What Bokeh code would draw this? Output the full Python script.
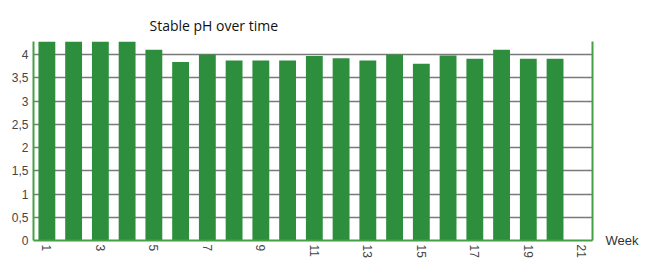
from bokeh.plotting import figure
from bokeh.models import FixedTicker, LinearAxis, Range1d, Title
from bokeh.embed import file_html
from bokeh.resources import INLINE
import math

weeks = list(range(1, 21))
ph_values = [4.4, 4.4, 4.4, 4.4, 4.1, 3.84, 4.0, 3.87, 3.87, 3.87,
             3.97, 3.92, 3.87, 4.0, 3.8, 3.98, 3.91, 4.1, 3.91, 3.91]
x_ticks = [1, 3, 5, 7, 9, 11, 13, 15, 17, 19, 21]
y_ticks = [0, 0.5, 1, 1.5, 2, 2.5, 3, 3.5, 4]
y_tick_labels = {0: "0", 0.5: "0,5", 1: "1", 1.5: "1,5", 2: "2", 2.5: "2,5",
                 3: "3", 3.5: "3,5", 4: "4"}
title_text = "Stable pH over time"
x_label = "Week"

GREEN = "#2d8f3d"
AXIS_GREEN = "#45a045"
FONT = "'Liberation Sans Narrow', 'Liberation Sans'"

p = figure(width=641, height=260, output_backend="svg", toolbar_location=None,
           x_range=Range1d(0.5, 21.4), y_range=Range1d(0, 4.28),
           min_border_left=33, min_border_right=45, min_border_top=41,
           min_border_bottom=18)
p.border_fill_color = "white"
p.title = Title(text=title_text, align="left", offset=116, standoff=10,
                vertical_align="top", text_line_height=0.6,
                text_font="Open Sans", text_font_size="14px",
                text_font_style="normal", text_color="#111111")

p.vbar(x=weeks, top=ph_values, width=0.63, bottom=0,
       fill_color=GREEN, line_color=None)

p.outline_line_color = None
p.background_fill_color = "white"

p.xgrid.grid_line_color = None
p.ygrid.ticker = FixedTicker(ticks=y_ticks)
p.ygrid.grid_line_color = "#7a7a7a"
p.ygrid.grid_line_width = 1.5

xa = p.xaxis[0]
xa.ticker = FixedTicker(ticks=x_ticks)
xa.major_label_orientation = -math.pi / 2
xa.axis_line_color = AXIS_GREEN
xa.axis_line_width = 2
xa.major_tick_line_color = None
xa.major_tick_out = 0
xa.major_tick_in = 0
xa.minor_tick_line_color = None
xa.major_label_text_font = FONT
xa.major_label_text_font_size = "12px"
xa.major_label_text_color = "#444444"
xa.major_label_standoff = 4

ya = p.yaxis[0]
ya.ticker = FixedTicker(ticks=y_ticks)
ya.major_label_overrides = y_tick_labels
ya.axis_line_color = AXIS_GREEN
ya.axis_line_width = 2
ya.major_tick_line_color = None
ya.major_tick_out = 0
ya.major_tick_in = 0
ya.minor_tick_line_color = None
ya.major_label_text_font = FONT
ya.major_label_text_font_size = "12px"
ya.major_label_text_color = "#444444"
ya.major_label_standoff = 5

ra = LinearAxis(ticker=FixedTicker(ticks=[0]),
                major_label_overrides={0: x_label},
                axis_line_color=AXIS_GREEN, axis_line_width=2,
                major_tick_line_color=None, major_tick_out=0, major_tick_in=0,
                minor_tick_line_color=None, major_label_standoff=13,
                major_label_text_font=FONT, major_label_text_font_size="13px",
                major_label_text_color="#333333")
p.add_layout(ra, "right")

open("out.html", "w").write(file_html(p, INLINE))
